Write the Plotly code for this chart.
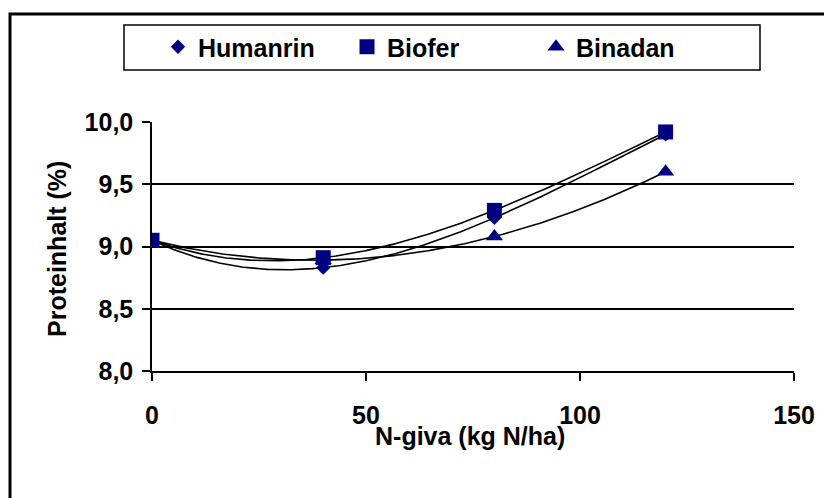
import numpy as np
import plotly.graph_objects as go

x_vals = [0, 40, 80, 120]
humanrin = [9.05, 8.83, 9.23, 9.90]
biofer = [9.05, 8.91, 9.29, 9.92]
binadan = [9.05, 8.89, 9.08, 9.60]

x_ticks = [0, 50, 100, 150]
y_ticks = [8.0, 8.5, 9.0, 9.5, 10.0]
y_tick_labels = ["8,0", "8,5", "9,0", "9,5", "10,0"]

FONT = "Liberation Sans, Arial, sans-serif"
NAVY = "#000080"
FS = 25

W, H = 832, 498
OFF = 8  # page body margin
L, T = 144, 114
pw, ph = 642, 249
R = W - L - pw
B = H - T - ph

def px_x(p):
    # p: screen pixel
    return (p - OFF - L) / pw

def px_y(p):
    return (T + ph - (p - OFF)) / ph

fig = go.Figure()

series = [
    ("Humanrin", humanrin, "diamond", 11, 1),
    ("Binadan", binadan, "triangle-up", 15, 3),
    ("Biofer", biofer, "square", 15, 2),
]

# polynomial trendlines (order 3) computed from the data
xs = np.linspace(0, 120, 241)
for name, ys, sym, sz, rank in series:
    c = np.polyfit(x_vals, ys, 3)
    fig.add_trace(go.Scatter(x=xs, y=np.polyval(c, xs), mode="lines",
                             line=dict(color="black", width=1.6),
                             showlegend=False, hoverinfo="skip"))

for name, ys, sym, sz, rank in series:
    fig.add_trace(go.Scatter(x=x_vals, y=ys, mode="markers", name=name,
                             marker=dict(symbol=sym, size=sz, color=NAVY),
                             legendrank=rank))

fig.update_layout(
    width=W, height=H, autosize=False,
    margin=dict(l=L, r=R, t=T, b=B),
    paper_bgcolor="white", plot_bgcolor="white",
    font=dict(family=FONT, size=FS, color="black"),
    showlegend=True,
    legend=dict(orientation="h", x=px_x(158), y=px_y(47), xanchor="left", yanchor="middle",
                bgcolor="rgba(0,0,0,0)", borderwidth=0,
                entrywidth=144, entrywidthmode="pixels",
                font=dict(family=FONT, size=FS, color="black", weight="bold"),
                traceorder="normal"),
    xaxis=dict(range=[0, 150], tickvals=x_ticks, ticktext=[str(v) for v in x_ticks],
               showgrid=False, zeroline=False, showline=True, linecolor="black", linewidth=1.5,
               ticks="outside", ticklen=8, tickwidth=1.5, tickcolor="black",
               ticklabelstandoff=13,
               tickfont=dict(family=FONT, size=FS, color="black", weight="bold")),
    yaxis=dict(range=[8.0, 10.0], tickvals=y_ticks, ticktext=y_tick_labels,
               showgrid=True, gridcolor="black", gridwidth=1.5, zeroline=False,
               showline=True, linecolor="black", linewidth=1.5,
               ticks="outside", ticklen=8, tickwidth=1.5, tickcolor="black",
               ticklabelstandoff=4,
               tickfont=dict(family=FONT, size=FS, color="black", weight="bold")),
    shapes=[
        dict(type="rect", xref="paper", yref="paper",
             x0=px_x(10), x1=px_x(850), y0=px_y(515), y1=px_y(14),
             line=dict(color="black", width=3), fillcolor="rgba(0,0,0,0)", layer="below"),
        dict(type="rect", xref="paper", yref="paper",
             x0=px_x(124), x1=px_x(760), y0=px_y(70), y1=px_y(25),
             line=dict(color="black", width=1.5), fillcolor="white", layer="below"),
    ],
    annotations=[
        dict(text="<b>Proteinhalt (%)</b>", xref="paper", yref="paper",
             x=px_x(57), y=px_y(249), textangle=-90, showarrow=False,
             xanchor="center", yanchor="middle", font=dict(family=FONT, size=FS, color="black")),
        dict(text="<b>N-giva (kg N/ha)</b>", xref="paper", yref="paper",
             x=px_x(470), y=px_y(436), showarrow=False,
             xanchor="center", yanchor="middle", font=dict(family=FONT, size=FS, color="black")),
    ],
)

fig.write_html("out.html")
